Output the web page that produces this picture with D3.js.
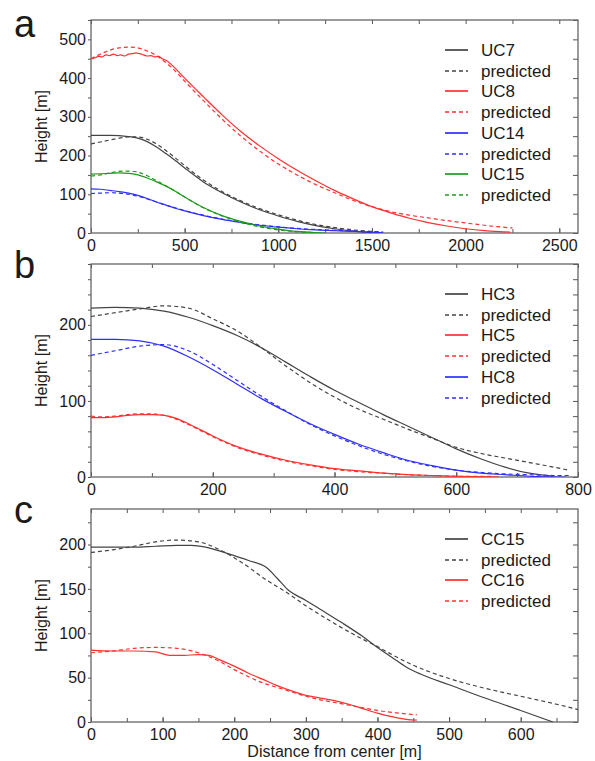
<!DOCTYPE html>
<html>
<head>
<meta charset="utf-8">
<script src="https://cdn.jsdelivr.net/npm/d3@7"></script>
<style>
  body { margin: 0; background: #fff; }
  text { font-family: "Liberation Sans", Arial, sans-serif; fill: #1a1a1a; }
</style>
</head>
<body>
<div id="chart"></div>
<script>
// ---- panel a : [distance, height] ----
const uc7 = [[0,252],[100,252],[200,249],[250,245],[300,236],[350,222],[400,205],[450,187],[500,168],[600,132],[700,104],[800,80],[900,60],[1000,44],[1100,30],[1200,19],[1300,11],[1400,5],[1500,1]]
const uc7Pred = [[0,230],[50,235],[100,240],[150,245],[200,248],[250,248],[300,242],[350,230],[400,213],[450,194],[500,174],[600,137],[700,107],[800,83],[900,63],[1000,47],[1100,33],[1200,22],[1300,14],[1400,8],[1500,4],[1560,2]]
const uc8 = [[0,450],[20,452],[40,456],[60,455],[80,460],[100,458],[120,462],[140,458],[160,460],[180,457],[200,462],[220,463],[240,465],[260,463],[280,460],[300,457],[320,458],[340,455],[360,456],[380,450],[400,446],[450,425],[500,400],[600,352],[700,305],[800,262],[900,225],[1000,192],[1100,162],[1200,135],[1300,110],[1400,88],[1500,68],[1600,52],[1700,38],[1800,27],[1900,18],[2000,11],[2100,6],[2200,3],[2240,2]]
const uc8Pred = [[0,450],[50,462],[100,472],[150,478],[200,480],[250,478],[300,470],[350,458],[400,440],[450,418],[500,392],[600,342],[700,294],[800,250],[900,212],[1000,178],[1100,150],[1200,125],[1300,104],[1400,84],[1500,68],[1600,55],[1700,46],[1800,39],[1900,32],[2000,26],[2100,20],[2200,15],[2250,13]]
const uc14 = [[0,114],[50,113],[100,110],[150,107],[200,103],[250,97],[300,89],[350,80],[400,72],[450,64],[500,57],[600,45],[700,35],[800,27],[900,20],[1000,15],[1100,11],[1200,8],[1300,6],[1400,4],[1500,2],[1550,1]]
const uc14Pred = [[0,102],[50,103],[100,104],[150,103],[200,100],[250,95],[300,88],[350,80],[400,72],[450,65],[500,58],[600,46],[700,36],[800,28],[900,21],[1000,16],[1100,12],[1200,9],[1300,7],[1400,5],[1500,3],[1560,2]]
const uc15 = [[0,152],[50,153],[100,154],[150,155],[200,154],[250,150],[300,142],[350,132],[400,121],[450,108],[500,93],[550,79],[600,66],[700,45],[800,30],[900,18],[1000,10],[1100,4],[1200,1],[1250,0]]
const uc15Pred = [[0,147],[50,150],[100,155],[150,159],[200,160],[250,157],[300,148],[350,135],[400,122],[450,108],[500,93],[600,65],[700,44],[800,28],[900,16],[1000,8],[1100,3],[1200,1]]

// ---- panel b ----
const hc3 = [[0,222],[40,223],[80,222],[120,218],[160,210],[200,199],[240,186],[280,170],[320,151],[360,132],[400,114],[440,98],[480,82],[520,67],[560,52],[600,37],[640,24],[680,13],[720,5],[760,1]]
const hc3Pred = [[0,211],[40,216],[80,221],[120,225],[160,222],[200,208],[240,192],[280,170],[320,146],[360,124],[400,105],[440,89],[480,76],[520,63],[560,51],[600,39],[640,31],[680,25],[720,19],[760,13],[785,9]]
const hc5 = [[0,78],[20,78],[40,79],[60,81],[80,82],[100,82],[120,81],[140,77],[160,70],[180,62],[200,54],[240,40],[280,30],[320,22],[360,16],[400,11],[440,8],[480,5],[520,3],[560,2],[600,1],[670,0]]
const hc5Pred = [[0,80],[20,79],[40,80],[60,82],[80,83],[100,83],[120,81],[140,76],[160,69],[180,61],[200,53],[240,39],[280,29],[320,21],[360,15],[400,10],[440,7],[480,5],[520,3],[560,2],[600,1],[660,1]]
const hc8 = [[0,181],[40,181],[80,179],[120,172],[160,158],[200,141],[240,122],[280,103],[320,86],[360,70],[400,56],[440,43],[480,32],[520,22],[560,15],[600,9],[640,5],[680,3],[720,1],[780,0]]
const hc8Pred = [[0,160],[40,166],[80,172],[120,174],[160,166],[200,148],[240,127],[280,106],[320,87],[360,69],[400,54],[440,41],[480,30],[520,21],[560,14],[600,9],[640,6],[680,4],[720,3],[760,2],[785,2]]

// ---- panel c ----
const cc15 = [[0,197],[30,197],[60,197],[90,198],[120,199],[140,199],[160,197],[190,190],[220,182],[245,174],[260,162],[275,149],[300,137],[320,127],[350,112],[380,96],[400,84],[420,73],[440,62],[460,54],[500,42],[550,27],[600,13],[645,0]]
const cc15Pred = [[0,191],[30,194],[60,198],[90,203],[120,205],[150,203],[180,194],[210,180],[245,160],[275,145],[300,131],[340,111],[380,93],[400,85],[420,76],[450,64],[500,49],[550,38],[600,29],[650,20],[680,14]]
const cc16 = [[0,81],[30,80],[60,80],[90,79],[110,75],[130,75],[150,76],[165,75],[180,70],[200,63],[220,55],[240,48],[260,41],[280,35],[300,30],[320,27],[340,24],[360,20],[380,15],[400,10],[420,6],[440,3],[455,2]]
const cc16Pred = [[0,78],[30,80],[60,83],[90,84],[120,83],[150,78],[180,68],[200,59],[220,51],[240,44],[260,39],[280,34],[300,29],[320,25],[340,22],[360,19],[380,16],[400,13],[430,10],[455,8]]

const colBlack = "#444", colRed = "#ff3030", colBlue = "#2f2fff", colGreen = "#1f9a1f"

const width = 595, height = 761
const left = 91, right = 578

const svg = d3.select("#chart").append("svg")
    .attr("width", width)
    .attr("height", height)

function drawPanel({ top, bottom, xMax, yMax, xMajor, xMinor, yMajor, yMinor, letter, letterY, series }) {
    const x = d3.scaleLinear().domain([0, xMax]).range([left, right])
    const y = d3.scaleLinear().domain([0, yMax]).range([bottom, top])
    const g = svg.append("g")
    const clipId = "clip-" + letter

    g.append("clipPath").attr("id", clipId)
        .append("rect")
        .attr("x", left).attr("y", top)
        .attr("width", right - left).attr("height", bottom - top)

    const xMajorVals = d3.range(0, xMax + 1e-6, xMajor)
    const xMinorVals = d3.range(0, xMax + 1e-6, xMinor)
    const yMajorVals = d3.range(0, yMax + 1e-6, yMajor)
    const yMinorVals = d3.range(0, yMax + 1e-6, yMinor)

    // bottom axis, ticks pointing up
    g.append("g").attr("transform", `translate(0,${bottom})`)
        .call(d3.axisBottom(x).tickValues(xMinorVals).tickSizeInner(-4).tickSizeOuter(0).tickFormat(""))
    g.append("g").attr("class", "lab").attr("transform", `translate(0,${bottom})`)
        .call(d3.axisBottom(x).tickValues(xMajorVals).tickSizeInner(-5).tickSizeOuter(0).tickPadding(7).tickFormat(d3.format("d")))
    // top axis, ticks pointing down
    g.append("g").attr("transform", `translate(0,${top})`)
        .call(d3.axisTop(x).tickValues(xMinorVals).tickSizeInner(-4).tickSizeOuter(0).tickFormat(""))
    // left axis, ticks pointing out
    g.append("g").attr("class", "lab").attr("transform", `translate(${left},0)`)
        .call(d3.axisLeft(y).tickValues(yMinorVals).tickSizeInner(3).tickSizeOuter(0).tickPadding(2)
            .tickFormat(d => yMajorVals.includes(d) ? d : ""))
    // right axis, ticks pointing in
    g.append("g").attr("transform", `translate(${right},0)`)
        .call(d3.axisRight(y).tickValues(yMinorVals).tickSizeInner(-5).tickSizeOuter(0).tickFormat(""))

    g.selectAll(".domain").remove()
    g.selectAll(".tick line").attr("stroke", "#555").attr("stroke-width", 1)
    g.selectAll(".lab text").attr("font-size", 16).attr("fill", "#1a1a1a")
        .attr("font-family", '"Liberation Sans", Arial, sans-serif')

    // frame
    g.append("rect")
        .attr("x", left).attr("y", top)
        .attr("width", right - left).attr("height", bottom - top)
        .attr("fill", "none").attr("stroke", "#666").attr("stroke-width", 1.3)

    const line = d3.line()
        .x(d => x(d[0]))
        .y(d => y(d[1]))
        .curve(d3.curveMonotoneX)

    const lines = g.append("g").attr("clip-path", `url(#${clipId})`)
    series.forEach(s => {
        lines.append("path")
            .datum(s.data)
            .attr("d", line)
            .attr("fill", "none")
            .attr("stroke", s.color)
            .attr("stroke-width", 1.2)
            .attr("stroke-dasharray", s.dashed ? "4,3" : null)
    })

    // legend
    const leg = g.append("g")
        .selectAll("g")
        .data(series)
        .join("g")
        .attr("transform", (d, i) => `translate(445,${Math.round(top + 30 + i * 20.7)})`)
    leg.append("line")
        .attr("x1", 0).attr("x2", 23)
        .attr("stroke", d => d.color)
        .attr("stroke-width", 1.7)
        .attr("stroke-dasharray", d => d.dashed ? "4,3" : null)
    leg.append("text")
        .attr("x", 36).attr("dy", "0.36em")
        .attr("font-size", 17)
        .text(d => d.name)

    // y label
    g.append("text")
        .attr("transform", `translate(47,${(top + bottom) / 2}) rotate(-90)`)
        .attr("text-anchor", "middle")
        .attr("font-size", 16)
        .text("Height [m]")

    // panel letter
    g.append("text")
        .attr("x", 14).attr("y", letterY)
        .attr("font-size", 38)
        .text(letter)
}

drawPanel({
    top: 20, bottom: 233, xMax: 2600, yMax: 550,
    xMajor: 500, xMinor: 250, yMajor: 100, yMinor: 50,
    letter: "a", letterY: 37,
    series: [
        { name: "UC7", data: uc7, color: colBlack },
        { name: "predicted", data: uc7Pred, color: colBlack, dashed: true },
        { name: "UC8", data: uc8, color: colRed },
        { name: "predicted", data: uc8Pred, color: colRed, dashed: true },
        { name: "UC14", data: uc14, color: colBlue },
        { name: "predicted", data: uc14Pred, color: colBlue, dashed: true },
        { name: "UC15", data: uc15, color: colGreen },
        { name: "predicted", data: uc15Pred, color: colGreen, dashed: true }
    ]
})

drawPanel({
    top: 264, bottom: 477, xMax: 800, yMax: 280,
    xMajor: 200, xMinor: 100, yMajor: 100, yMinor: 20,
    letter: "b", letterY: 278,
    series: [
        { name: "HC3", data: hc3, color: colBlack },
        { name: "predicted", data: hc3Pred, color: colBlack, dashed: true },
        { name: "HC5", data: hc5, color: colRed },
        { name: "predicted", data: hc5Pred, color: colRed, dashed: true },
        { name: "HC8", data: hc8, color: colBlue },
        { name: "predicted", data: hc8Pred, color: colBlue, dashed: true }
    ]
})

drawPanel({
    top: 509, bottom: 722, xMax: 680, yMax: 240,
    xMajor: 100, xMinor: 50, yMajor: 50, yMinor: 25,
    letter: "c", letterY: 523,
    series: [
        { name: "CC15", data: cc15, color: colBlack },
        { name: "predicted", data: cc15Pred, color: colBlack, dashed: true },
        { name: "CC16", data: cc16, color: colRed },
        { name: "predicted", data: cc16Pred, color: colRed, dashed: true }
    ]
})

svg.append("text")
    .attr("x", (left + right) / 2).attr("y", 757)
    .attr("text-anchor", "middle")
    .attr("font-size", 16)
    .text("Distance from center [m]")
</script>
</body>
</html>
